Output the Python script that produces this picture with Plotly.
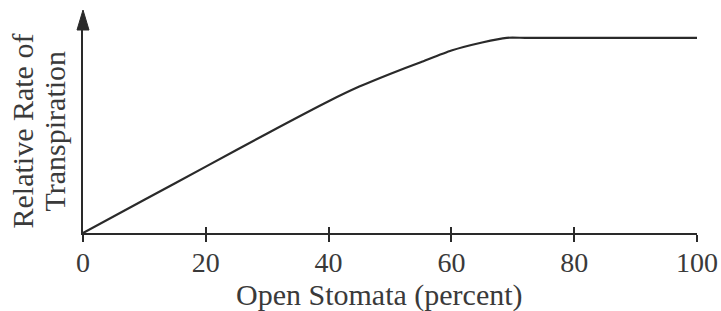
import plotly.graph_objects as go

# Data
open_stomata = [0, 10, 20, 30, 40, 45, 50, 55, 60, 65, 69, 72, 80, 90, 100]
relative_rate = [0, 0.17, 0.34, 0.51, 0.675, 0.75, 0.815, 0.875, 0.935, 0.976, 1.0, 1.0, 1.0, 1.0, 1.0]
x_ticks = [0, 20, 40, 60, 80, 100]
x_title = "Open Stomata (percent)"
y_title_lines = ["Relative Rate of", "Transpiration"]

FONT = "Liberation Serif"
INK = "#2a2a2a"
TXT = "#3a3a3a"
TICK_FS = 28
TITLE_FS = 30

fig = go.Figure()
fig.add_trace(go.Scatter(
    x=open_stomata, y=relative_rate, mode="lines",
    line=dict(color=INK, width=2.2, shape="spline", smoothing=0.6),
    hoverinfo="skip", showlegend=False,
))
# invisible trace on overlay axis so the inside ticks are drawn
fig.add_trace(go.Scatter(x=[0, 100], y=[0, 0], xaxis="x2", mode="lines",
                         line=dict(width=0), hoverinfo="skip", showlegend=False))

fig.update_layout(
    width=721, height=311,
    margin=dict(l=83, r=24, t=30, b=78, autoexpand=False),
    paper_bgcolor="white", plot_bgcolor="white",
    font=dict(family=FONT, size=TICK_FS, color=TXT),
    xaxis=dict(
        range=[0, 100], tickvals=x_ticks, ticktext=[str(v) for v in x_ticks],
        showgrid=False, zeroline=False, automargin=False,
        showline=True, linecolor=INK, linewidth=2,
        ticks="outside", ticklen=7, tickwidth=1.5, tickcolor=INK,
        ticklabelstandoff=-4,
        tickfont=dict(family=FONT, size=TICK_FS, color=TXT),
    ),
    xaxis2=dict(
        range=[0, 100], overlaying="x", anchor="y", side="bottom",
        tickvals=x_ticks, showticklabels=False, automargin=False,
        showgrid=False, zeroline=False, showline=False,
        ticks="inside", ticklen=6, tickwidth=1.5, tickcolor=INK,
    ),
    yaxis=dict(
        range=[0, 1.04], showticklabels=False, ticks="",
        showgrid=False, zeroline=False, automargin=False,
        showline=True, linecolor=INK, linewidth=2,
    ),
)

# x-axis title
fig.add_annotation(
    text=x_title, xref="paper", yref="paper", x=0.5, y=0,
    xanchor="center", yanchor="middle", xshift=-11, yshift=-62,
    showarrow=False, font=dict(family=FONT, size=TITLE_FS, color=TXT),
)
# y-axis title, two rotated lines
for line_text, shift in zip(y_title_lines, [-61, -29]):
    fig.add_annotation(
        text=line_text, xref="paper", yref="paper", x=0, y=0.5,
        xanchor="center", yanchor="middle", xshift=shift, textangle=-90,
        showarrow=False, font=dict(family=FONT, size=TITLE_FS, color=TXT),
    )

# arrowhead on top of the y axis
fig.add_shape(
    type="path", xref="paper", yref="paper",
    xsizemode="pixel", ysizemode="pixel", xanchor=0, yanchor=1,
    path="M -6 0 L 6 0 L 0 20 Z",
    fillcolor=INK, line=dict(color=INK, width=1),
)
# small downward extension of the y axis line below the x axis
fig.add_shape(
    type="path", xref="paper", yref="paper",
    xsizemode="pixel", ysizemode="pixel", xanchor=0, yanchor=0,
    path="M 0 0 L 0 -8",
    line=dict(color=INK, width=2),
)

# remove the default page margin so the figure fills the window exactly
fig.write_html("out.html", config={"displayModeBar": False},
               post_script="document.body.style.margin='0';")
